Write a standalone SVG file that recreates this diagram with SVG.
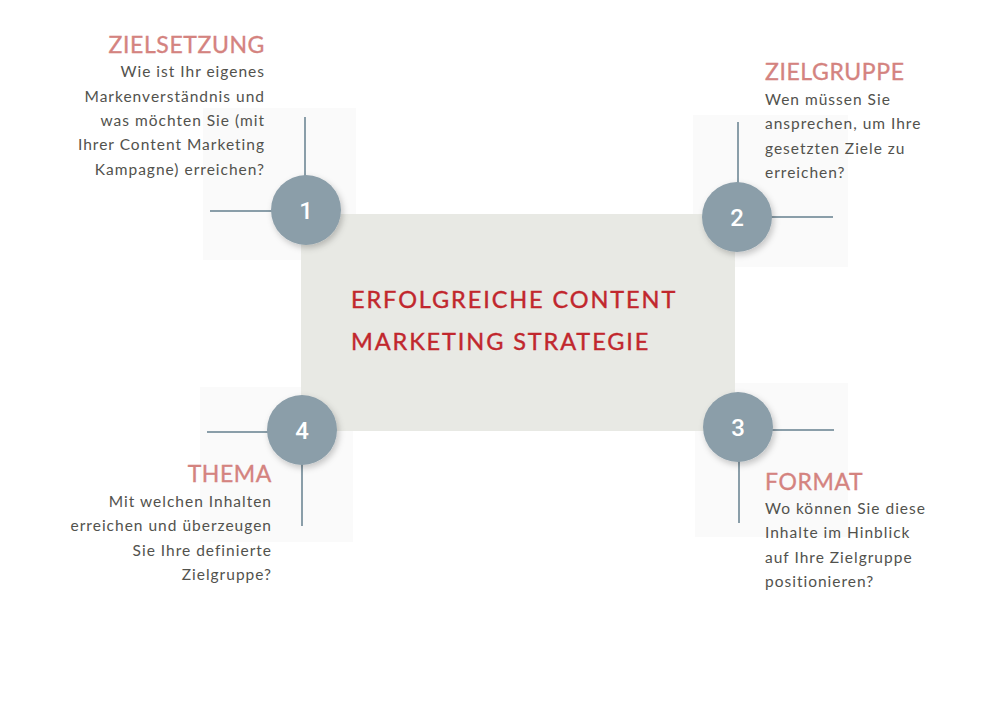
<svg xmlns="http://www.w3.org/2000/svg" width="1000" height="708" viewBox="0 0 1000 708">
<defs>
<filter id="sh" x="-40%" y="-40%" width="180%" height="180%">
<feDropShadow dx="2" dy="3" stdDeviation="3" flood-color="#000" flood-opacity="0.22"/>
</filter>
<style>
.panel{fill:#fafafa}
.ln{stroke:#8a9ea9;stroke-width:2;fill:none}
.circ{fill:#8b9ea9;filter:url(#sh)}
.num{font-family:Roboto,"Liberation Sans",sans-serif;font-size:24px;font-weight:500;fill:#fff;text-anchor:middle}
.h{font-family:Lato,"Noto Sans",sans-serif;font-size:23px;letter-spacing:0.6px;fill:#d4837f;stroke:#d4837f;stroke-width:0.35px}
.b{font-family:Lato,"Noto Sans",sans-serif;font-size:15.5px;letter-spacing:1px;fill:#52524d}
.t{font-family:Lato,"Noto Sans",sans-serif;font-size:23.5px;letter-spacing:1.9px;fill:#c1272d;stroke:#c1272d;stroke-width:0.4px}
.r{text-anchor:end}
</style>
</defs>
<rect width="1000" height="708" fill="#fff"/>
<g id="panels">
<rect class="panel" x="203" y="108" width="153" height="152"/>
<rect class="panel" x="693" y="115" width="155" height="152"/>
<rect class="panel" x="695" y="383" width="153" height="154"/>
<rect class="panel" x="200" y="387" width="153" height="155"/>
</g>
<g id="center">
<rect x="301" y="214" width="434" height="217" fill="#e8e9e4"/>
<text class="t" x="351" y="308">ERFOLGREICHE CONTENT</text>
<text class="t" x="351" y="350">MARKETING STRATEGIE</text>
</g>
<g id="connectors">
<line class="ln" x1="305" y1="117" x2="305" y2="180"/>
<line class="ln" x1="210" y1="211" x2="275" y2="211"/>
<line class="ln" x1="738" y1="122" x2="738" y2="185"/>
<line class="ln" x1="768" y1="217" x2="833" y2="217"/>
<line class="ln" x1="768" y1="430" x2="834" y2="430"/>
<line class="ln" x1="739" y1="458" x2="739" y2="523"/>
<line class="ln" x1="207" y1="432" x2="270" y2="432"/>
<line class="ln" x1="302" y1="462" x2="302" y2="526"/>
</g>
<g id="node1">
<circle class="circ" cx="306" cy="210" r="35"/>
<text class="num" x="306" y="219">1</text>
<text class="h r" x="265" y="53">ZIELSETZUNG</text>
<text class="b r" x="265" y="77">Wie ist Ihr eigenes</text>
<text class="b r" x="265" y="102">Markenverständnis und</text>
<text class="b r" x="265" y="126">was möchten Sie (mit</text>
<text class="b r" x="265" y="150">Ihrer Content Marketing</text>
<text class="b r" x="265" y="175">Kampagne) erreichen?</text>
</g>
<g id="node2">
<circle class="circ" cx="737" cy="217" r="35"/>
<text class="num" x="737" y="226">2</text>
<text class="h" x="765" y="80">ZIELGRUPPE</text>
<text class="b" x="765" y="105">Wen müssen Sie</text>
<text class="b" x="765" y="129">ansprechen, um Ihre</text>
<text class="b" x="765" y="154">gesetzten Ziele zu</text>
<text class="b" x="765" y="178">erreichen?</text>
</g>
<g id="node3">
<circle class="circ" cx="738" cy="427" r="35"/>
<text class="num" x="738" y="436">3</text>
<text class="h" x="765" y="490">FORMAT</text>
<text class="b" x="765" y="514">Wo können Sie diese</text>
<text class="b" x="765" y="538">Inhalte im Hinblick</text>
<text class="b" x="765" y="563">auf Ihre Zielgruppe</text>
<text class="b" x="765" y="587">positionieren?</text>
</g>
<g id="node4">
<circle class="circ" cx="302" cy="430" r="35"/>
<text class="num" x="302" y="439">4</text>
<text class="h r" x="272" y="482">THEMA</text>
<text class="b r" x="272" y="507">Mit welchen Inhalten</text>
<text class="b r" x="272" y="531">erreichen und überzeugen</text>
<text class="b r" x="272" y="556">Sie Ihre definierte</text>
<text class="b r" x="272" y="580">Zielgruppe?</text>
</g>
</svg>
